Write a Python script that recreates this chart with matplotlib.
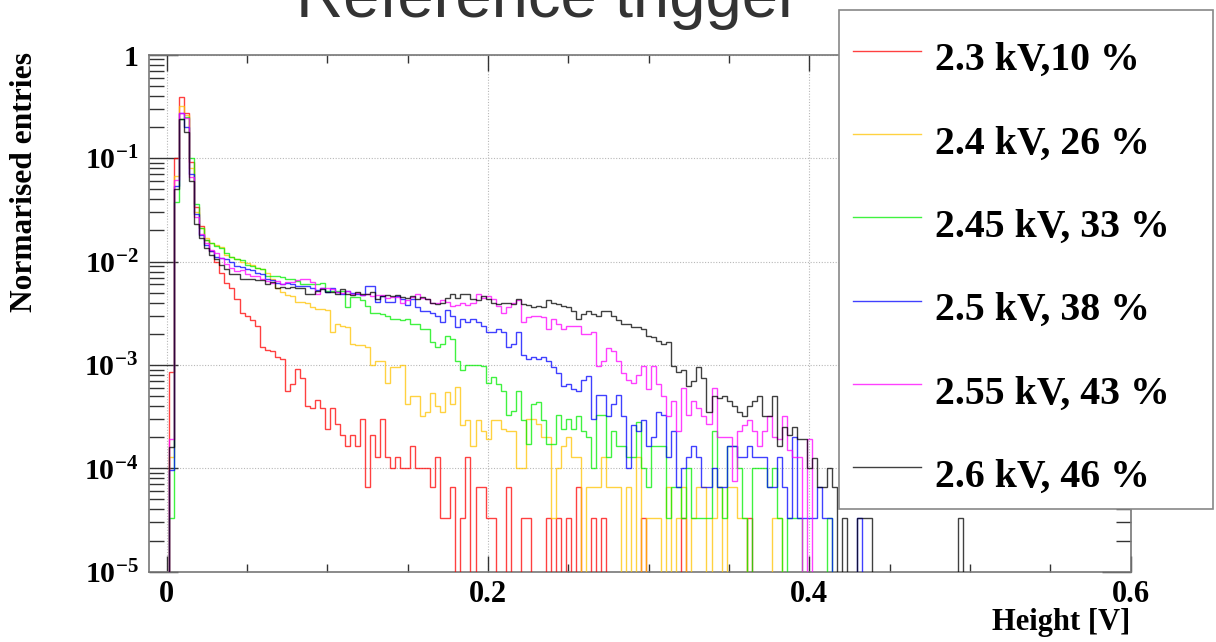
import numpy as np
import matplotlib
matplotlib.use("Agg")
import matplotlib.pyplot as plt
from matplotlib.ticker import MultipleLocator, LogLocator, NullFormatter
from matplotlib.lines import Line2D
from matplotlib.patches import Rectangle

plt.rcParams['mathtext.fontset'] = 'custom'
plt.rcParams['mathtext.rm'] = 'Liberation Serif:bold'
plt.rcParams['mathtext.it'] = 'Liberation Serif:bold:italic'
plt.rcParams['mathtext.bf'] = 'Liberation Serif:bold'
plt.rcParams['mathtext.default'] = 'rm'

# ---------------------------------------------------------------- data
# normalised pulse-height spectra, one value per bin (bin width 3.125 mV)
h_2300 = [8.5e-4, 0.10, 0.39, 0.27, 0.091, 0.034, 0.022, 0.016, 0.0125, 0.0098,
          0.0078, 0.0062, 0.0056, 0.0043, 0.0032, 0.0030, 0.0027, 0.0024, 0.0015, 0.0014,
          0.00135, 0.0012, 0.00115, 5.6e-4, 6.5e-4, 9.2e-4, 7.5e-4, 4.0e-4, 3.8e-4, 4.6e-4,
          3.8e-4, 2.4e-4, 3.8e-4, 2.7e-4, 2.1e-4, 1.66e-4, 2.1e-4, 1.66e-4, 3.0e-4, 6.6e-5,
          2.1e-4, 1.3e-4, 3.0e-4, 1.3e-4, 1.0e-4, 1.3e-4, 1.0e-4, 1.0e-4, 1.66e-4, 1.0e-4,
          1.0e-4, 1.0e-4, 6.6e-5, 1.3e-4, 3.3e-5, 3.3e-5, 6.6e-5, 0, 3.3e-5, 1.3e-4,
          0, 6.6e-5, 6.6e-5, 3.3e-5, 3.3e-5, 0, 0, 6.6e-5, 0, 0,
          3.3e-5, 3.3e-5, 0, 0, 0, 3.3e-5, 0, 3.3e-5, 0, 3.3e-5,
          0, 6.6e-5, 0, 0, 3.3e-5, 0, 3.3e-5, 0, 0, 0,
          0, 0, 0, 0, 3.3e-5, 0, 0, 0, 0, 0,
          0, 0, 3.3e-5, 0, 0, 0, 0, 0, 0, 0,
          0, 0, 0, 0, 0, 3.3e-5]

h_2400 = [1.3e-4, 0.067, 0.32, 0.26, 0.080, 0.030, 0.021, 0.017, 0.0152, 0.0145,
          0.0137, 0.0115, 0.011, 0.0105, 0.0098, 0.0097, 0.0092, 0.0087, 0.0085, 0.0078,
          0.0068, 0.0055, 0.0051, 0.0047, 0.0046, 0.0041, 0.0041, 0.0040, 0.0036, 0.0035,
          0.0035, 0.0034, 0.0021, 0.0025, 0.0024, 0.0023, 0.0016, 0.00155, 0.00155, 0.0015,
          0.0010, 0.0011, 0.0011, 6.7e-4, 9.5e-4, 9.5e-4, 1.0e-3, 4.2e-4, 5.0e-4, 5.0e-4,
          3.2e-4, 3.5e-4, 5.4e-4, 4.0e-4, 3.5e-4, 5.5e-4, 4.2e-4, 6.1e-4, 2.6e-4, 2.9e-4,
          1.66e-4, 2.9e-4, 2.3e-4, 1.9e-4, 2.9e-4, 2.9e-4, 2.4e-4, 2.3e-4, 2.3e-4, 1.0e-4,
          1.0e-4, 3.0e-4, 3.0e-4, 2.7e-4, 2.0e-4, 2.0e-4, 3.3e-5, 1.0e-4, 1.66e-4, 2.0e-4,
          1.3e-4, 1.3e-4, 0, 6.6e-5, 6.6e-5, 6.6e-5, 1.3e-4, 6.6e-5, 6.6e-5, 6.6e-5,
          0, 6.6e-5, 0, 1.3e-4, 0, 3.3e-5, 3.3e-5, 3.3e-5, 0, 6.6e-5,
          0, 3.3e-5, 6.6e-5, 0, 3.3e-5, 6.6e-5, 6.6e-5, 0, 3.3e-5, 6.6e-5,
          0, 6.6e-5, 6.6e-5, 3.3e-5, 3.3e-5, 0, 0, 0, 0, 0,
          3.3e-5, 3.3e-5]

h_2450 = [3.3e-5, 0.038, 0.24, 0.25, 0.10, 0.036, 0.021, 0.0163, 0.015, 0.014,
          0.0135, 0.012, 0.011, 0.0105, 0.0103, 0.0092, 0.009, 0.0087, 0.0085, 0.0072,
          0.0072, 0.0072, 0.0071, 0.0068, 0.0067, 0.0065, 0.0060, 0.0060, 0.0060, 0.0060,
          0.0062, 0.0052, 0.0052, 0.0052, 0.0052, 0.0036, 0.0045, 0.0045, 0.0042, 0.0037,
          0.0032, 0.0032, 0.0031, 0.0030, 0.00275, 0.0028, 0.0027, 0.00275, 0.0025, 0.0025,
          0.0022, 0.0022, 0.00165, 0.0015, 0.0016, 0.0019, 0.0018, 0.0011, 9.0e-4, 1.0e-3,
          1.0e-3, 1.0e-3, 9.8e-4, 6.7e-4, 7.7e-4, 6.5e-4, 5.6e-4, 3.3e-4, 3.6e-4, 5.6e-4,
          2.9e-4, 1.7e-4, 4.2e-4, 4.4e-4, 2.9e-4, 1.7e-4, 1.7e-4, 3.3e-4, 2.4e-4, 3.0e-4,
          2.4e-4, 3.2e-4, 2.3e-4, 2.0e-4, 1.0e-4, 3.3e-4, 3.3e-4, 1.3e-4, 2.3e-4, 1.66e-4,
          1.66e-4, 1.3e-4, 1.3e-4, 2.8e-4, 1.0e-4, 6.6e-5, 1.66e-4, 1.66e-4, 1.66e-4, 3.3e-5,
          6.6e-5, 6.6e-5, 3.3e-5, 1.0e-4, 3.3e-5, 3.3e-5, 3.3e-5, 3.3e-5, 2.3e-4, 6.6e-5,
          3.3e-5, 1.66e-4, 1.66e-4, 1.0e-4, 3.3e-5, 0, 1.0e-4, 1.0e-4, 1.0e-4, 6.6e-5,
          1.0e-4, 3.3e-5, 0, 3.3e-5, 3.3e-5, 3.3e-5, 0, 0, 0, 0,
          0, 3.3e-5]

h_2500 = [9.7e-5, 0.054, 0.27, 0.20, 0.070, 0.029, 0.018, 0.0145, 0.0125, 0.011,
          0.0108, 0.0105, 0.0098, 0.009, 0.0088, 0.0085, 0.0082, 0.0078, 0.0075, 0.0068,
          0.0066, 0.0062, 0.0060, 0.0062, 0.0060, 0.0058, 0.0058, 0.0058, 0.0055, 0.0053,
          0.0055, 0.0051, 0.0055, 0.0051, 0.0048, 0.0052, 0.0050, 0.0048, 0.0047, 0.0058,
          0.0058, 0.0041, 0.0046, 0.0041, 0.0041, 0.0046, 0.0043, 0.0038, 0.0043, 0.0036,
          0.0033, 0.0033, 0.0032, 0.00295, 0.0026, 0.0034, 0.0030, 0.0023, 0.0028, 0.0026,
          0.0028, 0.0026, 0.0024, 0.0021, 0.0021, 0.0022, 0.0021, 0.0015, 0.0016, 0.0021,
          0.00126, 0.00115, 0.0012, 0.00115, 0.0012, 0.0011, 9.5e-4, 8.3e-4, 6.2e-4, 6.5e-4,
          5.9e-4, 5.6e-4, 7.2e-4, 7.8e-4, 3.0e-4, 5.1e-4, 5.1e-4, 3.2e-4, 4.2e-4, 5.1e-4,
          3.2e-4, 1.0e-4, 2.6e-4, 2.3e-4, 2.9e-4, 1.66e-4, 2.0e-4, 3.5e-4, 3.3e-4, 1.3e-4,
          2.3e-4, 6.6e-5, 1.0e-4, 1.3e-4, 1.66e-4, 1.3e-4, 6.6e-5, 6.6e-5, 1.0e-4, 6.6e-5,
          6.6e-5, 1.66e-4, 1.66e-4, 1.3e-4, 1.3e-4, 1.66e-4, 1.3e-4, 1.3e-4, 1.3e-4, 6.6e-5,
          6.6e-5, 1.3e-4, 6.6e-5, 3.3e-5, 2.0e-4, 3.3e-5, 3.3e-5, 3.3e-5, 3.3e-5, 6.6e-5,
          3.3e-5, 3.3e-5, 0, 0, 0, 0, 0, 3.3e-5]

h_2550 = [1.9e-4, 0.062, 0.27, 0.245, 0.065, 0.027, 0.0185, 0.015, 0.013, 0.012,
          0.0108, 0.0095, 0.0086, 0.0081, 0.0083, 0.0075, 0.0072, 0.0072, 0.0068, 0.0065,
          0.0062, 0.0065, 0.0060, 0.0063, 0.0063, 0.0066, 0.0068, 0.0067, 0.0064, 0.0048,
          0.0056, 0.0056, 0.0054, 0.0051, 0.0050, 0.0052, 0.0049, 0.0050, 0.0047, 0.0048,
          0.0046, 0.0047, 0.0047, 0.0044, 0.0045, 0.0045, 0.0040, 0.0042, 0.0045, 0.0049,
          0.0044, 0.0043, 0.0040, 0.0040, 0.0042, 0.0041, 0.00375, 0.0038, 0.0040, 0.0038,
          0.0040, 0.0048, 0.0044, 0.0046, 0.0043, 0.00375, 0.0032, 0.0036, 0.0040, 0.0042,
          0.0026, 0.0029, 0.0030, 0.0030, 0.0029, 0.0022, 0.0028, 0.0025, 0.0022, 0.0024,
          0.0024, 0.0024, 0.0020, 0.0020, 0.0021, 9.7e-4, 1.1e-3, 1.45e-3, 1.35e-3, 1.1e-3,
          8.3e-4, 7.2e-4, 6.7e-4, 8.0e-4, 9.7e-4, 5.8e-4, 9.7e-4, 6.5e-4, 5.0e-4, 3.2e-4,
          4.5e-4, 2.3e-4, 6.0e-4, 3.3e-4, 4.5e-4, 3.8e-4, 3.2e-4, 2.7e-4, 6.0e-4, 2.0e-4,
          2.0e-4, 2.0e-4, 7.6e-5, 2.3e-4, 2.6e-4, 2.9e-4, 2.3e-4, 1.66e-4, 2.3e-4, 3.2e-4,
          2.0e-4, 1.9e-4, 3.2e-4, 1.5e-4, 1.3e-4, 1.3e-4, 0, 1.9e-4]

h_2600 = [1.6e-4, 0.050, 0.24, 0.18, 0.060, 0.023, 0.017, 0.0135, 0.0115, 0.0105,
          0.0093, 0.0084, 0.0076, 0.0075, 0.0068, 0.0067, 0.0067, 0.0066, 0.0066, 0.0060,
          0.0063, 0.0055, 0.0057, 0.0055, 0.0057, 0.0055, 0.0056, 0.0048, 0.0049, 0.0052,
          0.0054, 0.0051, 0.0051, 0.0049, 0.0054, 0.0048, 0.0047, 0.0051, 0.0049, 0.0048,
          0.0051, 0.0043, 0.0046, 0.0047, 0.0046, 0.0047, 0.0045, 0.0044, 0.0046, 0.0043,
          0.0045, 0.0043, 0.0040, 0.0039, 0.0040, 0.0044, 0.0048, 0.0044, 0.0048, 0.0048,
          0.0043, 0.0042, 0.0046, 0.0043, 0.0040, 0.0039, 0.0040, 0.0040, 0.0039, 0.0043,
          0.0039, 0.0038, 0.0036, 0.0037, 0.0036, 0.0042, 0.0040, 0.0039, 0.0037, 0.0036,
          0.0033, 0.0028, 0.0031, 0.0033, 0.0031, 0.0030, 0.0033, 0.0033, 0.0030, 0.0027,
          0.0025, 0.0025, 0.0023, 0.00235, 0.0022, 0.0019, 0.00185, 0.0017, 0.0016, 0.00165,
          9.7e-4, 8.5e-4, 9.0e-4, 6.2e-4, 7.0e-4, 9.5e-4, 7.5e-4, 3.5e-4, 5.0e-4, 4.8e-4,
          5.0e-4, 4.5e-4, 4.0e-4, 3.5e-4, 3.2e-4, 4.0e-4, 4.5e-4, 5.0e-4, 3.2e-4, 3.2e-4,
          5.0e-4, 1.66e-4, 2.5e-4, 2.1e-4, 2.5e-4, 1.9e-4, 1.9e-4, 1.0e-4, 1.25e-4, 6.6e-5,
          6.6e-5, 1.0e-4, 6.6e-5, 0, 3.3e-5, 0, 0, 3.3e-5, 3.3e-5, 3.3e-5,
          0, 0, 0, 0, 0, 0, 0, 0, 0, 0,
          0, 0, 0, 0, 0, 0, 0, 3.3e-5]

series = [h_2300, h_2400, h_2450, h_2500, h_2550, h_2600]
series_labels = ["2.3 kV,10 %", "2.4 kV, 26 %", "2.45 kV, 33 %",
                 "2.5 kV, 38 %", "2.55 kV, 43 %", "2.6 kV, 46 %"]
series_colors = ["#ff0000", "#ffc400", "#00ee00", "#0000ff", "#ff00ff", "#000000"]

x_ticks = [0.0, 0.2, 0.4, 0.6]
x_tick_labels = ["0", "0.2", "0.4", "0.6"]
y_ticks = [1e-5, 1e-4, 1e-3, 1e-2, 1e-1, 1.0]
y_tick_labels = [r"$10^{-5}$", r"$10^{-4}$", r"$10^{-3}$", r"$10^{-2}$", r"$10^{-1}$", r"$1$"]

# binning of the histograms
bin_lo, bin_w, n_bins = 0.0016, 0.003125, 192

# ---------------------------------------------------------------- figure
W, H = 1216, 642
fig = plt.figure(figsize=(W / 100, H / 100), dpi=100)


def fx(px):
    return px / W


def fy(py):
    return 1 - py / H


ax = fig.add_axes([fx(149.3), fy(571.7), fx(1130.7) - fx(149.3), fy(54.7) - fy(571.7)])
ax.set_yscale("log")

edges = bin_lo + bin_w * np.arange(n_bins + 1)
floor = 1e-8
for vals, col in zip(series, series_colors):
    v = np.zeros(n_bins)
    v[:len(vals)] = vals
    v = np.where(v > 0, v, floor)
    ax.stairs(v, edges, baseline=floor, color=col, lw=1.0, alpha=0.75, zorder=3)

ax.set_xlim(-0.0108, 0.6)
ax.set_ylim(1e-5, 1.0)

serif = "Liberation Serif"
ax.set_xticks(x_ticks, labels=x_tick_labels, fontsize=22, fontweight="bold", fontfamily=serif)
ax.xaxis.set_minor_locator(MultipleLocator(0.05))
ax.set_yticks(y_ticks, labels=y_tick_labels, fontsize=21.5)
ax.yaxis.set_minor_locator(LogLocator(base=10, subs=np.arange(2, 10)))
ax.yaxis.set_minor_formatter(NullFormatter())
for lab in ax.get_yticklabels():
    lab.set_verticalalignment("center_baseline")

tick_col = "#333333"
ax.tick_params(axis="x", which="major", direction="in", length=11.2, width=1.0,
               color=tick_col, top=True, pad=6)
ax.tick_params(axis="x", which="minor", direction="in", length=5.5, width=1.0,
               color=tick_col, top=True)
ax.tick_params(axis="y", which="major", direction="in", length=21, width=1.0,
               color=tick_col, right=True, pad=8)
ax.tick_params(axis="y", which="minor", direction="in", length=10.8, width=1.0,
               color=tick_col, right=True)

ax.grid(which="major", color="#b8b8b8", linestyle=(0, (1, 1.5)), linewidth=0.8)
ax.set_axisbelow(True)
for sp in ax.spines.values():
    sp.set_color("#777777")
    sp.set_linewidth(1.2)

# titles
fig.text(fx(296), fy(17.3), "Reference trigger", ha="left", va="baseline",
         fontsize=47, family="Liberation Sans", color="#333333")
fig.text(fx(10), fy(52), "Normarised entries", rotation=90, ha="left", va="top",
         fontsize=22.6, fontweight="bold", family=serif)
fig.text(fx(1130), fy(630), "Height [V]", ha="right", va="baseline",
         fontsize=22, fontweight="bold", family=serif)

# legend box
fig.add_artist(Rectangle((fx(839.3), fy(509)), fx(1213) - fx(839.3), fy(10) - fy(509),
                         transform=fig.transFigure, facecolor="white",
                         edgecolor="#888888", lw=1.2, zorder=10))
for i, (lab, col) in enumerate(zip(series_labels, series_colors)):
    yl = 50.7 + 83.3 * i
    fig.add_artist(Line2D([fx(853), fx(921)], [fy(yl), fy(yl)], transform=fig.transFigure,
                          color=col, lw=1.0, alpha=0.75, zorder=11))
    fig.text(fx(935), fy(yl + 19.5), lab, ha="left", va="baseline", fontsize=28.6,
             fontweight="bold", family=serif, zorder=11)

fig.savefig("out.png", dpi=100)
